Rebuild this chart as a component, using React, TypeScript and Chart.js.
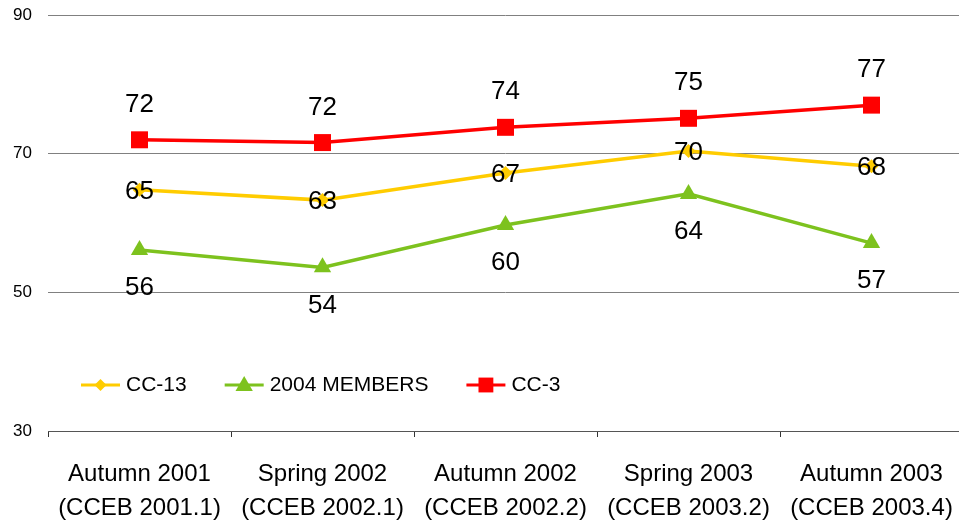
import React, { useEffect, useRef } from "react";
import { Chart, registerables } from "chart.js";

Chart.register(...registerables);

const categories: string[][] = [
  ["Autumn 2001", "(CCEB 2001.1)"],
  ["Spring 2002", "(CCEB 2002.1)"],
  ["Autumn 2002", "(CCEB 2002.2)"],
  ["Spring 2003", "(CCEB 2003.2)"],
  ["Autumn 2003", "(CCEB 2003.4)"],
];

const seriesNames = ["CC-13", "2004 MEMBERS", "CC-3"];
const cc13Values = [64.8, 63.3, 67.2, 70.4, 68.2];
const members2004Values = [56.1, 53.6, 59.7, 64.2, 57.1];
const cc3Values = [72.0, 71.6, 73.8, 75.1, 77.0];

const cc13Labels = ["65", "63", "67", "70", "68"];
const members2004Labels = ["56", "54", "60", "64", "57"];
const cc3Labels = ["72", "72", "74", "75", "77"];

const yTicks = [30, 50, 70, 90];

const FONT = "'Liberation Sans', Arial, sans-serif";
const COLORS = ["#FFCC00", "#7DC21E", "#FF0000"];
const STYLES = ["rectRot", "triangle", "rect"];
const RADII = [7, 10, 12];
const LABEL_OFFSETS = [2, 38, -35];

function drawMarker(ctx: CanvasRenderingContext2D, style: string, x: number, y: number, r: number) {
  ctx.beginPath();
  if (style === "rect") {
    const s = r * Math.SQRT1_2;
    ctx.rect(x - s, y - s, 2 * s, 2 * s);
  } else if (style === "rectRot") {
    ctx.moveTo(x, y - r);
    ctx.lineTo(x + r, y);
    ctx.lineTo(x, y + r);
    ctx.lineTo(x - r, y);
    ctx.closePath();
  } else {
    let rad = 0;
    ctx.moveTo(x + Math.sin(rad) * r, y - Math.cos(rad) * r);
    rad += (2 * Math.PI) / 3;
    ctx.lineTo(x + Math.sin(rad) * r, y - Math.cos(rad) * r);
    rad += (2 * Math.PI) / 3;
    ctx.lineTo(x + Math.sin(rad) * r, y - Math.cos(rad) * r);
    ctx.closePath();
  }
  ctx.fill();
}

const valueLabelPlugin = {
  id: "valueLabels",
  afterDatasetsDraw(chart: any) {
    const ctx = chart.ctx as CanvasRenderingContext2D;
    const labelSets = [cc13Labels, members2004Labels, cc3Labels];
    ctx.save();
    ctx.font = `26px ${FONT}`;
    ctx.fillStyle = "#000";
    ctx.textAlign = "center";
    ctx.textBaseline = "middle";
    chart.data.datasets.forEach((_: any, i: number) => {
      const meta = chart.getDatasetMeta(i);
      meta.data.forEach((pt: any, j: number) => {
        ctx.fillText(labelSets[i][j], pt.x, pt.y + LABEL_OFFSETS[i]);
      });
    });
    ctx.restore();
  },
};

const customLegendPlugin = {
  id: "customLegend",
  afterDraw(chart: any) {
    const ctx = chart.ctx as CanvasRenderingContext2D;
    const y = 385;
    let x = 81;
    const lineLen = 39;
    const radii = [6, 10, 10.5];
    ctx.save();
    ctx.font = `21px ${FONT}`;
    ctx.textBaseline = "middle";
    ctx.textAlign = "left";
    seriesNames.forEach((name, i) => {
      ctx.strokeStyle = COLORS[i];
      ctx.fillStyle = COLORS[i];
      ctx.lineWidth = 3;
      ctx.beginPath();
      ctx.moveTo(x, y);
      ctx.lineTo(x + lineLen, y);
      ctx.stroke();
      drawMarker(ctx, STYLES[i], x + lineLen / 2, i === 1 ? y + 1 : y, radii[i]);
      const tx = x + lineLen + 6;
      ctx.fillStyle = "#000";
      ctx.fillText(name, tx, y);
      x = tx + ctx.measureText(name).width + 38;
    });
    ctx.restore();
  },
};

export default function App() {
  const canvasRef = useRef<HTMLCanvasElement | null>(null);

  useEffect(() => {
    if (!canvasRef.current) return;
    const valueSets = [cc13Values, members2004Values, cc3Values];
    const chart = new Chart(canvasRef.current, {
      type: "line",
      data: {
        labels: categories,
        datasets: seriesNames.map((name, i) => ({
          label: name,
          data: valueSets[i],
          borderColor: COLORS[i],
          backgroundColor: COLORS[i],
          borderWidth: 3.5,
          pointStyle: STYLES[i] as any,
          pointRadius: RADII[i],
          pointHoverRadius: RADII[i],
          pointBorderWidth: 0,
          pointBackgroundColor: COLORS[i],
          tension: 0,
          fill: false,
        })),
      },
      options: {
        animation: false,
        responsive: false,
        maintainAspectRatio: false,
        events: [],
        layout: { autoPadding: false, padding: { top: 15, right: 0, left: 0, bottom: 0 } },
        plugins: {
          legend: { display: false },
          tooltip: { enabled: false },
        },
        scales: {
          x: {
            offset: true,
            grid: {
              offset: true,
              drawOnChartArea: false,
              drawTicks: true,
              tickLength: 6,
              color: "#333",
            },
            border: { display: true, color: "#555", width: 1 },
            ticks: {
              color: "#000",
              font: { family: FONT, size: 24, lineHeight: "34px" as any },
              padding: 20,
              maxRotation: 0,
              autoSkip: false,
            },
            afterFit(scale: any) {
              scale.height = 89;
              scale.paddingLeft = 0;
              scale.paddingRight = 0;
            },
          },
          y: {
            min: 30,
            max: 90,
            afterBuildTicks(scale: any) {
              scale.ticks = yTicks.map((v) => ({ value: v }));
            },
            grid: { color: "#808080", lineWidth: 1, drawTicks: false },
            border: { display: false },
            ticks: {
              color: "#000",
              font: { family: FONT, size: 17 },
              padding: 16,
            },
            afterFit(scale: any) {
              scale.width = 48;
              scale.paddingTop = 0;
              scale.paddingBottom = 0;
            },
          },
        },
      },
      plugins: [valueLabelPlugin, customLegendPlugin],
    });
    return () => chart.destroy();
  }, []);

  return (
    <div
      style={{
        position: "fixed",
        left: 0,
        top: 0,
        width: 959,
        height: 520,
        overflow: "hidden",
        background: "#fff",
      }}
    >
      <canvas ref={canvasRef} width={963} height={520} style={{ display: "block" }} />
    </div>
  );
}
